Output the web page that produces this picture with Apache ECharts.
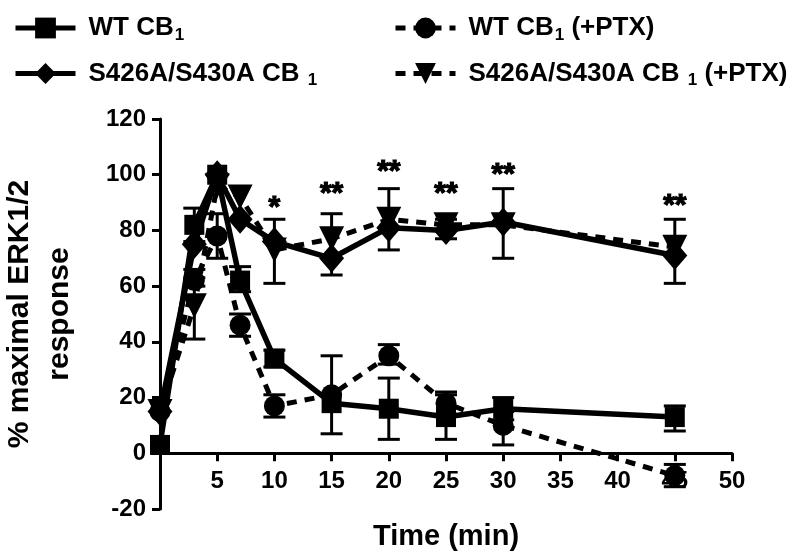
<!DOCTYPE html>
<html>
<head>
    <meta charset="utf-8">
    <title>ERK1/2 time course</title>
    <script src="https://cdn.jsdelivr.net/npm/echarts@6/dist/echarts.min.js"></script>
</head>
<body style="margin:0">
    <div id="main" style="width: 800px;height: 560px;"></div>
    <script type="text/javascript">
        // time points (min)
        var times = [0, 3, 5, 7, 10, 15, 20, 25, 30, 45];
        var wt = [3, 82, 100, 62, 34, 18, 16, 13, 16, 13];
        var wtPtx = [15, 62, 78, 46, 17, 21, 35, 18, 10, -8];
        var mut = [15, 75, 100, 84, 76, 70, 81, 80, 83, 71];
        var mutPtx = [15, 53, 96, 92, 73, 77, 84, 82, 82, 74];

        // error bars: [time, low, high]
        var wtErr = [[3, 76, 88], [7, 58, 67], [10, 31, 37], [15, 7, 35], [20, 5, 27], [25, 5, 22], [30, 12, 20], [45, 8, 17]];
        var wtPtxErr = [[3, 60, 66], [5, 70, 86], [7, 42, 50], [10, 13, 21], [20, 32, 39], [25, 14, 21], [30, 3, 15], [45, -12, -4]];
        var mutPtxErr = [[3, 41, 63], [10, 61, 84], [15, 64, 86], [20, 73, 95], [25, 77, 84], [30, 70, 95], [45, 61, 84]];

        // significance marks
        var starTimes = [10, 15, 20, 25, 30, 45];
        var starY = [88, 93, 101, 93, 100, 89];
        var starText = ['*', '**', '**', '**', '**', '**'];

        var names = ['WT CB1', 'WT CB1 (+PTX)', 'S426A/S430A CB1', 'S426A/S430A CB1 (+PTX)'];
        var legendText = {
            'WT CB1': '{b|WT CB}{s|1}',
            'WT CB1 (+PTX)': '{b|WT CB}{s|1}{b| (+PTX)}',
            'S426A/S430A CB1': '{b|S426A/S430A CB }{s|1}',
            'S426A/S430A CB1 (+PTX)': '{b|S426A/S430A CB }{s|1}{b| (+PTX)}'
        };

        function pairs(ys) {
            return times.map(function (t, i) { return [t, ys[i]]; });
        }

        var font = 'Liberation Sans';

        function errSeries(data) {
            return {
                type: 'custom',
                data: data,
                silent: true,
                z: 1,
                renderItem: function (params, api) {
                    var x = api.value(0);
                    var lo = api.coord([x, api.value(1)]);
                    var hi = api.coord([x, api.value(2)]);
                    var w = 11;
                    var st = { stroke: '#000', lineWidth: 3 };
                    return {
                        type: 'group',
                        children: [
                            { type: 'line', shape: { x1: lo[0], y1: lo[1], x2: hi[0], y2: hi[1] }, style: st },
                            { type: 'line', shape: { x1: lo[0] - w, y1: lo[1], x2: lo[0] + w, y2: lo[1] }, style: st },
                            { type: 'line', shape: { x1: hi[0] - w, y1: hi[1], x2: hi[0] + w, y2: hi[1] }, style: st }
                        ]
                    };
                }
            };
        }

        var legendRich = {
            b: { fontFamily: font, fontWeight: 'bold', fontSize: 26, color: '#000' },
            s: { fontFamily: font, fontWeight: 'bold', fontSize: 17, color: '#000', padding: [14, 0, 0, 1] }
        };
        function legendAt(left, data) {
            return {
                left: left,
                top: 10,
                orient: 'vertical',
                data: data,
                itemWidth: 60,
                itemHeight: 26,
                itemGap: 17,
                selectedMode: false,
                lineStyle: { width: 5 },
                formatter: function (n) { return legendText[n]; },
                textStyle: { rich: legendRich, padding: [0, 0, 0, 8] }
            };
        }

        var myChart = echarts.init(document.getElementById('main'));
        var option = {
            animation: false,
            backgroundColor: '#fff',
            legend: [
                legendAt(8, [names[0], names[2]]),
                legendAt(388, [names[1], names[3]])
            ],
            grid: { left: 160, right: 68, top: 119, bottom: 51, outerBoundsMode: 'none' },
            xAxis: {
                type: 'value',
                min: 0,
                max: 50,
                interval: 5,
                name: 'Time (min)',
                nameLocation: 'middle',
                nameGap: 13,
                nameTextStyle: { fontFamily: font, fontWeight: 'bold', fontSize: 29, color: '#000' },
                axisLine: { onZero: true, lineStyle: { color: '#000', width: 3 } },
                axisTick: { length: 8, lineStyle: { width: 3, color: '#000' } },
                axisLabel: {
                    margin: -40,
                    fontFamily: font, fontWeight: 'bold', fontSize: 24, color: '#000',
                    formatter: function (v) { return v === 0 ? '' : v; }
                },
                splitLine: { show: false }
            },
            yAxis: {
                type: 'value',
                min: -20,
                max: 120,
                interval: 20,
                name: '% maximal ERK1/2\nresponse',
                nameLocation: 'middle',
                nameRotate: 90,
                nameGap: 80,
                nameTextStyle: { fontFamily: font, fontWeight: 'bold', fontSize: 30, color: '#000', lineHeight: 40 },
                axisLine: { show: true, lineStyle: { color: '#000', width: 3 } },
                axisTick: { show: true, length: 8, lineStyle: { width: 3, color: '#000' } },
                axisLabel: { margin: 14, fontFamily: font, fontWeight: 'bold', fontSize: 24, color: '#000' },
                splitLine: { show: false }
            },
            series: [
                errSeries(wtErr),
                errSeries(wtPtxErr),
                errSeries(mutPtxErr),
                {
                    name: names[1], type: 'line', data: pairs(wtPtx),
                    symbol: 'circle', symbolSize: 21,
                    itemStyle: { color: '#000' },
                    lineStyle: { color: '#000', width: 5, type: [10, 8] }
                },
                {
                    name: names[0], type: 'line', data: pairs(wt),
                    symbol: 'rect', symbolSize: 20,
                    itemStyle: { color: '#000' },
                    lineStyle: { color: '#000', width: 5.5 }
                },
                {
                    name: names[3], type: 'line', data: pairs(mutPtx),
                    symbol: 'path://M0,0 L2,0 L1,2 Z', symbolSize: [25, 25],
                    itemStyle: { color: '#000' },
                    lineStyle: { color: '#000', width: 5, type: [10, 8] }
                },
                {
                    name: names[2], type: 'line', data: pairs(mut),
                    symbol: 'diamond', symbolSize: [25, 29],
                    itemStyle: { color: '#000' },
                    lineStyle: { color: '#000', width: 5.5 }
                },
                {
                    // significance asterisks
                    type: 'custom',
                    silent: true,
                    z: 5,
                    data: starTimes.map(function (t, i) { return [t, starY[i], i]; }),
                    renderItem: function (params, api) {
                        var p = api.coord([api.value(0), api.value(1)]);
                        return {
                            type: 'text',
                            x: p[0],
                            y: p[1],
                            style: {
                                text: starText[api.value(2)],
                                fill: '#000',
                                stroke: '#000',
                                lineWidth: 1.2,
                                align: 'center',
                                verticalAlign: 'middle',
                                font: 'bold 30px "Liberation Sans"'
                            }
                        };
                    }
                }
            ]
        };
        myChart.setOption(option);
    </script>
</body>
</html>
